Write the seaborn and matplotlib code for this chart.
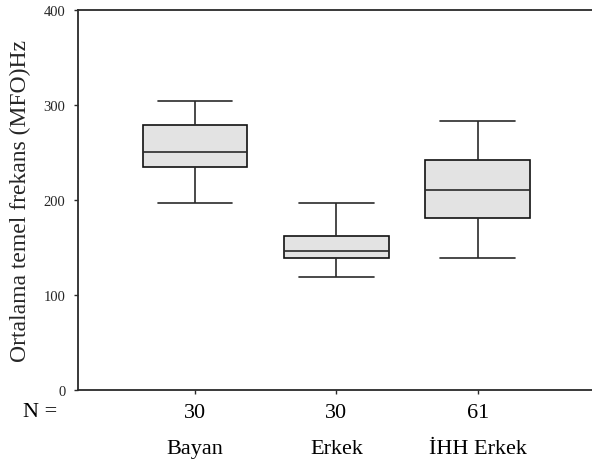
import matplotlib
matplotlib.use("Agg")
import matplotlib.pyplot as plt
import matplotlib.transforms as mtransforms
import seaborn as sns
import pandas as pd

# Data: five-number summaries (min, Q1, median, Q3, max)
groups = ["Bayan", "Erkek", "İHH Erkek"]
counts = [30, 30, 61]
mins = [197, 119, 139]
q1s = [235, 139, 181]
medians = [251, 146, 211]
q3s = [279, 162, 242]
maxs = [304, 197, 283]
yticks = [0, 100, 200, 300, 400]
ylabel = "Ortalama temel frekans (MFO)Hz"

rows = []
for g, a, b, c, d, e in zip(groups, mins, q1s, medians, q3s, maxs):
    for v in (a, b, c, d, e):
        rows.append({"grup": g, "deger": v})
df = pd.DataFrame(rows)

sns.set_theme(style="white")
plt.rcParams["font.family"] = ["Liberation Serif", "DejaVu Serif"]

fig = plt.figure(figsize=(5.92, 4.64), dpi=100)
ax = fig.add_axes([78 / 592, 73 / 464, 1 - 78 / 592, 380 / 464])

lc = "#2a2a2a"
sns.boxplot(data=df, x="grup", y="deger", order=groups, whis=(0, 100),
            width=0.742, color="#e3e3e3", linecolor=lc, linewidth=1.2,
            saturation=1, ax=ax, capwidths=0.53,
            boxprops=dict(edgecolor="#111111"))

ax.set_xlim(-0.827, 2.806)
ax.set_ylim(0, 400)
ax.set_yticks(yticks)
ax.set_yticklabels([str(t) for t in yticks], fontsize=10.5)
ax.set_xticks(range(len(groups)))
ax.set_xticklabels([""] * len(groups))
ax.tick_params(axis="both", which="major", direction="out", length=3,
               width=1.0, color=lc, left=True, bottom=True, pad=6)
ax.set_xlabel("")
ax.set_ylabel(ylabel, fontsize=17, labelpad=9)

for s in ("left", "top", "bottom"):
    ax.spines[s].set_visible(True)
    ax.spines[s].set_color(lc)
    ax.spines[s].set_linewidth(1.3)
ax.spines["right"].set_visible(False)

trans = mtransforms.blended_transform_factory(ax.transData, ax.transAxes)
for i, (g, n) in enumerate(zip(groups, counts)):
    ax.text(i, -0.058, str(n), transform=trans, ha="center", va="center",
            fontsize=16, color="black")
    ax.text(i, -0.155, g, transform=trans, ha="center", va="center",
            fontsize=16, color="black")
fig.text(40 / 592, 1 - 413 / 464, "N =", ha="center", va="center",
         fontsize=16, color="black")

fig.savefig("out.png", dpi=100)
